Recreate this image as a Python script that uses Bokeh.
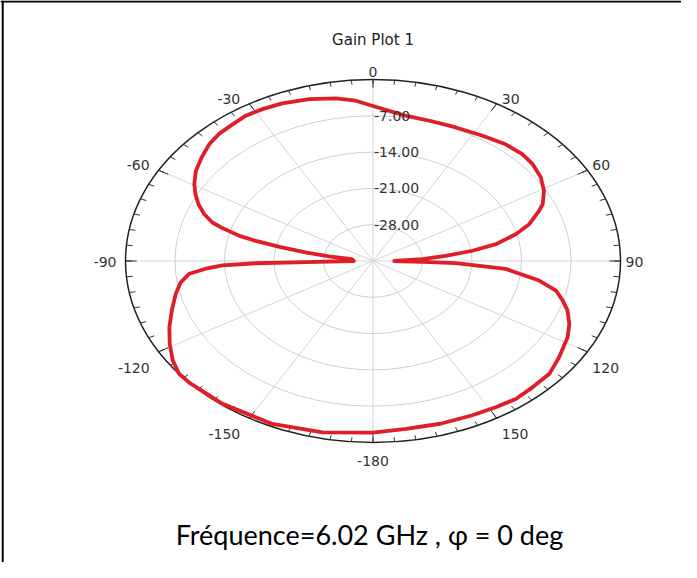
import numpy as np
from bokeh.plotting import figure
from bokeh.models import Range1d, Span
from bokeh.core.properties import value
from bokeh.embed import file_html
from bokeh.resources import INLINE

# ---------------- data ----------------
title_text = "Gain Plot 1"
caption_text = "Fréquence=6.02 GHz , φ = 0 deg"

theta_deg = [-180, -167.8, -155.6, -142.3, -132.3, -128.4, -124.1, -119.1, -113.9, -108.5,
             -102.8, -98.6, -95.4, -93.6, -92.3, -91.5, -91.3, -90.0, -83.0, -82.0,
             -80.2, -78.4, -76.8, -75.6, -73.4, -71.9, -69.3, -66.1, -62.9, -59.6,
             -55.2, -50.5, -45.8, -41.5, -37.0, -32.7, -28.1, -22.9, -16.1, -9.5,
             -4.5, 0.0, 4.5, 9.4, 16.8, 24.5, 32.7, 39.8, 45.7, 50.4,
             55.8, 60.8, 65.4, 67.6, 72.2, 75.6, 79.4, 82.0, 84.4, 87.0,
             90.0, 91.3, 92.1, 94.6, 99.1, 102.4, 105.9, 109.1, 113.6, 118.1,
             125.2, 131.1, 137.2, 142.8, 148.4, 154.7, 163.1, 171.8, 180]
gain_db = [-1.9, -1.2, -0.5, -0.2, 0.0, 0.0, -0.8, -2.1, -3.5, -5.0,
           -6.4, -7.5, -8.9, -11.3, -13.7, -18.4, -25.5, -32.3, -32.0, -28.7,
           -25.3, -21.5, -18.0, -15.5, -12.8, -11.1, -9.5, -8.0, -6.8, -5.7,
           -4.5, -3.6, -2.7, -2.2, -2.0, -1.7, -1.8, -2.0, -2.5, -3.2,
           -4.0, -5.1, -5.95, -6.6, -6.8, -6.7, -6.3, -5.7, -5.5, -5.7,
           -6.3, -7.3, -8.6, -9.6, -11.8, -14.1, -17.3, -20.8, -24.7, -28.0,
           -32.0, -28.0, -23.3, -16.2, -11.2, -8.5, -7.1, -5.9, -4.7, -3.8,
           -2.8, -1.9, -1.8, -1.6, -1.9, -2.1, -2.2, -2.3, -1.9]

ring_levels = [-7.0, -14.0, -21.0, -28.0]
ring_labels = ["-7.00", "-14.00", "-21.00", "-28.00"]
angle_ticks = [0, 30, 60, 90, 120, 150, 180, -150, -120, -90, -60, -30]
angle_labels = ["0", "30", "60", "90", "120", "150", "-180", "-150", "-120", "-90", "-60", "-30"]
r_min, r_max = -35.0, 0.0

# ---------------- layout ----------------
W, H = 681, 562
CX, CY = 372.5, 260.5      # centre of polar area in frame pixels
RX, RY = 247.5, 181.5      # outer ellipse radii in pixels


def rnorm(g):
    return (np.asarray(g, dtype=float) - r_min) / (r_max - r_min)


p = figure(width=W, height=H, output_backend="svg", toolbar_location=None,
           x_axis_location=None, y_axis_location=None, min_border=0,
           x_range=Range1d(-CX / RX, (W - CX) / RX),
           y_range=Range1d(-(H - CY) / RY, CY / RY))
p.grid.visible = False
p.outline_line_color = None
p.background_fill_color = "white"
p.border_fill_color = "white"

# frame lines (left and top)
p.add_layout(Span(location=p.x_range.start + 2.2 / RX, dimension="height",
                  line_color="black", line_width=2))
p.add_layout(Span(location=p.y_range.end - 1.0 / RY, dimension="width",
                  line_color="black", line_width=2))

# grid rings
for lvl in ring_levels:
    rr = float(rnorm(lvl))
    p.ellipse(x=0, y=0, width=2 * rr, height=2 * rr, fill_color=None,
              line_color="#cfcfcf", line_width=1)

# spokes
sp = np.radians(np.arange(0, 360, 30))
p.segment(x0=np.zeros(len(sp)), y0=np.zeros(len(sp)), x1=np.sin(sp), y1=np.cos(sp),
          line_color="#d4d4d4", line_width=1)

# outer ellipse
p.ellipse(x=0, y=0, width=2, height=2, fill_color=None, line_color="#222222", line_width=1.5)

# ticks
minor = np.radians(np.arange(0, 360, 5))
p.segment(x0=0.975 * np.sin(minor), y0=0.975 * np.cos(minor), x1=np.sin(minor), y1=np.cos(minor),
          line_color="#333333", line_width=1)
major = np.radians(np.arange(0, 360, 30))
p.segment(x0=0.955 * np.sin(major), y0=0.955 * np.cos(major), x1=np.sin(major), y1=np.cos(major),
          line_color="#333333", line_width=1)

# trace
t = np.radians(theta_deg)
r = rnorm(gain_db)
p.line(r * np.sin(t), r * np.cos(t), line_color="#e01e2a", line_width=3.8, line_join="round")

# radial labels
rl = rnorm(ring_levels)
p.text(x=np.zeros(len(rl)), y=rl, text=ring_labels, x_offset=1,
       text_font=value("DejaVu Sans"), text_font_size="14px", text_color="#333333",
       text_align="left", text_baseline="middle")

# angle labels
a = np.array(angle_ticks, dtype=float)
ar = np.radians(a)
ax, ay = np.sin(ar), np.cos(ar)
labs = np.array(angle_labels)
yoff = np.where(np.abs(a) < 90, -5.0, np.where(np.abs(a) == 90, 1.0, 16.0))
yoff = np.where(a == 0, -8.0, yoff)
yoff = np.where(np.abs(a) == 180, 18.0, yoff)
pos = (a > 0) & (a < 180)
neg = (a < 0) & (a > -180)
cen = ~(pos | neg)
common = dict(text_font=value("DejaVu Sans"), text_font_size="14px", text_color="#333333",
              text_baseline="middle")
p.text(x=ax[pos], y=ay[pos], text=list(labs[pos]), x_offset=5, y_offset=yoff[pos],
       text_align="left", **common)
p.text(x=ax[neg], y=ay[neg], text=list(labs[neg]), x_offset=-9, y_offset=yoff[neg],
       text_align="right", **common)
p.text(x=ax[cen], y=ay[cen], text=list(labs[cen]), x_offset=0, y_offset=yoff[cen],
       text_align="center", **common)

# title and caption
p.text(x=[0.0], y=[(CY - 39.5) / RY], text=[title_text], text_font=value("DejaVu Sans"),
       text_font_size="15px", text_color="#222222", text_align="center", text_baseline="middle")
p.text(x=[-3.5 / RX], y=[-(534.0 - CY) / RY], text=[caption_text], text_font=value("Lato"),
       text_font_size="27px", text_color="#000000", text_align="center", text_baseline="middle")

open("out.html", "w").write(file_html(p, INLINE))
